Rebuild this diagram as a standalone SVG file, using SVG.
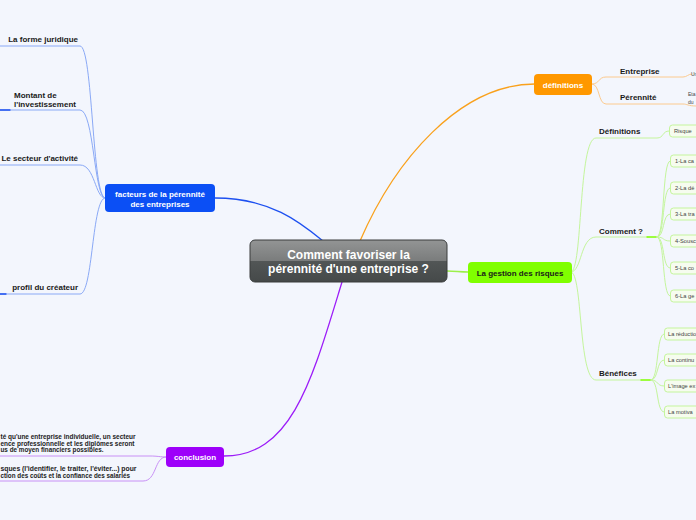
<svg xmlns="http://www.w3.org/2000/svg" width="696" height="520" viewBox="0 0 696 520">
<style>
.bg{fill:#f3f6fd}
text{font-family:"Liberation Sans",Arial,sans-serif}
.lbl{font-size:8px;font-weight:bold;fill:#1a1a1a}
.nodeT{font-size:8px;font-weight:bold;fill:#ffffff;text-anchor:middle}
.small{font-size:5.7px;fill:#444}
.concl{font-size:6.4px;font-weight:bold;fill:#222}
.c{fill:none;stroke-linecap:round}
.blueL{stroke:#8aa9f6;stroke-width:1}
.orangeL{stroke:#fcca8e;stroke-width:1}
.greenL{stroke:#c4f59c;stroke-width:1}
.purpleL{stroke:#c890f6;stroke-width:1}
.box{fill:#f6fcef;stroke:#c4f59c;stroke-width:1}
</style>
<defs>
<linearGradient id="cg" x1="0" y1="0" x2="0" y2="1">
<stop offset="0" stop-color="#939595"/>
<stop offset="0.5" stop-color="#7a7c7c"/>
<stop offset="0.5" stop-color="#525656"/>
<stop offset="1" stop-color="#454949"/>
</linearGradient>
</defs>
<rect class="bg" x="0" y="0" width="696" height="520"/>

<g id="connectors">
<path class="c" d="M215,198 C270,198 300,222 323,241" stroke="#1d50f0" stroke-width="1.3"/>
<path class="c" d="M360,241 C395,160 460,84 535,84" stroke="#f9a11c" stroke-width="1.3"/>
<path class="c" d="M447,271 C455,271 460,272 468,272" stroke="#9cf04a" stroke-width="1.3"/>
<path class="c" d="M342,282 C312,380 292,456 224,456" stroke="#9c1cf8" stroke-width="1.3"/>

<path class="c blueL" d="M105,198 C92,198 93,46 80,46 L0,46"/>
<path class="c blueL" d="M105,198 C94,198 94,110 80,110 L0,110"/>
<path class="c blueL" d="M105,198 C95,198 95,165 80,165 L0,165"/>
<path class="c blueL" d="M105,198 C92,198 93,294 80,294 L0,294"/>
<path class="c" d="M0,110 L10,110" stroke="#1d50f0" stroke-width="1.3"/>
<path class="c" d="M0,294 L6,294" stroke="#1d50f0" stroke-width="1.3"/>

<path class="c orangeL" d="M592,84 C600,84 598,77 606,77 L683,77 C687,77 688,74 692,74"/>
<path class="c orangeL" d="M592,84 C600,84 598,104 606,104 L683,104 C687,104 688,106 696,106"/>

<path class="c greenL" d="M571,272 C583,272 578,138 596,138 L657,138 C664,138 662,131 669,131"/>
<path class="c greenL" d="M571,272 C582,272 580,237 596,237 L648,237"/>
<path class="c greenL" d="M571,272 C583,272 578,380 596,380 L641,380"/>
<path class="c" d="M647,237 L657,237" stroke="#80ff00" stroke-width="1.4"/>
<path class="c" d="M641,380 L651,380" stroke="#80ff00" stroke-width="1.4"/>

<path class="c greenL" d="M657,237 C665,237 662,161 670,161"/>
<path class="c greenL" d="M657,237 C665,237 662,188 670,188"/>
<path class="c greenL" d="M657,237 C665,237 662,214 670,214"/>
<path class="c greenL" d="M657,237 C665,237 662,241 670,241"/>
<path class="c greenL" d="M657,237 C665,237 662,268 670,268"/>
<path class="c greenL" d="M657,237 C665,237 662,296 670,296"/>

<path class="c greenL" d="M651,380 C659,380 656,334 664,334"/>
<path class="c greenL" d="M651,380 C659,380 656,360 664,360"/>
<path class="c greenL" d="M651,380 C659,380 656,386 664,386"/>
<path class="c greenL" d="M651,380 C659,380 656,412 664,412"/>

<path class="c purpleL" d="M166,457 C160,457 158,456 150,456 L0,456"/>
<path class="c purpleL" d="M166,457 C154,457 157,481 143,481 L0,481"/>
</g>

<g id="central">
<rect x="250" y="240" width="197" height="42" rx="5" fill="url(#cg)" stroke="#3a3d3d" stroke-width="1"/>
<text x="348.5" y="259" style="font-size:12px;font-weight:bold;fill:#fff;text-anchor:middle">Comment favoriser la</text>
<text x="348.5" y="272.5" style="font-size:12px;font-weight:bold;fill:#fff;text-anchor:middle">pérennité d'une entreprise ?</text>
</g>

<g id="facteurs">
<rect x="105" y="184" width="110" height="28" rx="4" fill="#0b4ff5"/>
<text class="nodeT" x="160" y="197">facteurs de la pérennité</text>
<text class="nodeT" x="160" y="206.5">des entreprises</text>
</g>
<g id="forme"><text class="lbl" x="78" y="42" text-anchor="end">La forme juridique</text></g>
<g id="montant"><text class="lbl" x="14" y="98">Montant de</text><text class="lbl" x="14" y="106.5">l'investissement</text></g>
<g id="secteur"><text class="lbl" x="78" y="161" text-anchor="end">Le secteur d'activité</text></g>
<g id="profil"><text class="lbl" x="78" y="290" text-anchor="end">profil du créateur</text></g>

<g id="definitions">
<rect x="534" y="74" width="58" height="21" rx="4" fill="#ff9800"/>
<text class="nodeT" x="563" y="87.5">définitions</text>
</g>
<g id="entreprise"><text class="lbl" x="620" y="73.5">Entreprise</text><text class="small" x="691" y="76" style="font-size:5px">Un</text></g>
<g id="perennite"><text class="lbl" x="620" y="100">Pérennité</text><text class="small" x="688" y="95.5" style="font-size:5px">Eta</text><text class="small" x="688" y="103.5" style="font-size:5px">du</text></g>

<g id="gestion">
<rect x="468" y="262" width="104" height="21" rx="4" fill="#80ff00"/>
<text x="520" y="275.5" style="font-size:8px;font-weight:bold;fill:#1a1a1a;text-anchor:middle">La gestion des risques</text>
</g>
<g id="definitions2"><text class="lbl" x="599" y="134">Définitions</text></g>
<g id="risque"><rect class="box" x="669.5" y="125" width="30" height="12" rx="3"/><text class="small" x="674" y="133">Risque</text></g>
<g id="comment"><text class="lbl" x="599" y="233.5">Comment ?</text></g>
<g id="c1"><rect class="box" x="670.5" y="155" width="40" height="12" rx="3"/><text class="small" x="675" y="163">1-La ca</text></g>
<g id="c2"><rect class="box" x="670.5" y="182" width="40" height="12" rx="3"/><text class="small" x="675" y="190">2-La dé</text></g>
<g id="c3"><rect class="box" x="670.5" y="208" width="40" height="12" rx="3"/><text class="small" x="675" y="216">3-La tra</text></g>
<g id="c4"><rect class="box" x="670.5" y="235" width="40" height="12" rx="3"/><text class="small" x="675" y="243">4-Sousc</text></g>
<g id="c5"><rect class="box" x="670.5" y="262" width="40" height="12" rx="3"/><text class="small" x="675" y="270">5-La co</text></g>
<g id="c6"><rect class="box" x="670.5" y="290" width="40" height="12" rx="3"/><text class="small" x="675" y="298">6-La ge</text></g>
<g id="benefices"><text class="lbl" x="599" y="375.5">Bénéfices</text></g>
<g id="b1"><rect class="box" x="664.5" y="328" width="40" height="12" rx="3"/><text class="small" x="668" y="336">La réductio</text></g>
<g id="b2"><rect class="box" x="664.5" y="354" width="40" height="12" rx="3"/><text class="small" x="668" y="362">La continu</text></g>
<g id="b3"><rect class="box" x="664.5" y="380" width="40" height="12" rx="3"/><text class="small" x="668" y="388">L'image ex</text></g>
<g id="b4"><rect class="box" x="664.5" y="406" width="40" height="12" rx="3"/><text class="small" x="668" y="414">La motiva</text></g>

<g id="conclusion">
<rect x="166" y="447" width="58" height="20" rx="4" fill="#9d00fa"/>
<text class="nodeT" x="195" y="459.5">conclusion</text>
</g>
<g id="concl1">
<text class="concl" x="0.5" y="439" textLength="135" lengthAdjust="spacingAndGlyphs">té qu'une entreprise individuelle, un secteur</text>
<text class="concl" x="0.5" y="445.7" textLength="134" lengthAdjust="spacingAndGlyphs">ence professionnelle et les diplômes seront</text>
<text class="concl" x="0.5" y="452.4" textLength="103" lengthAdjust="spacingAndGlyphs">us de moyen financiers possibles.</text>
</g>
<g id="concl2">
<text class="concl" x="0.5" y="471.2" textLength="136" lengthAdjust="spacingAndGlyphs">sques (l'identifier, le traiter, l'éviter...) pour</text>
<text class="concl" x="0.5" y="477.9" textLength="129.5" lengthAdjust="spacingAndGlyphs">ction des coûts et la confiance des salariés</text>
</g>
</svg>
